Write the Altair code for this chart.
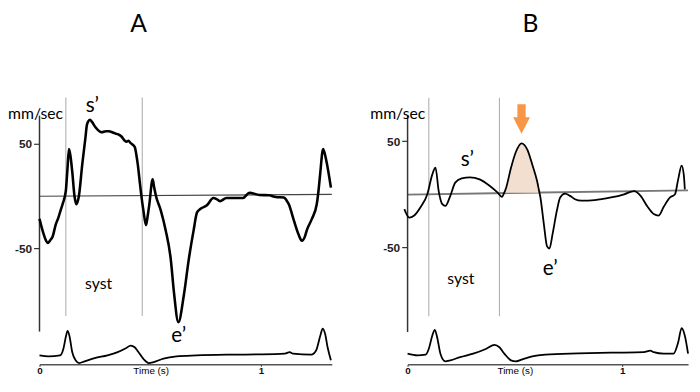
import altair as alt
import pandas as pd

# ---------------- data ----------------
# Panel A: tissue Doppler velocity (mm/sec) vs time (s)
a_time = [0.0, 0.015, 0.03, 0.037, 0.05, 0.059, 0.074, 0.085, 0.095, 0.104, 0.119, 0.126, 0.133, 0.14,
          0.148, 0.158, 0.166, 0.174, 0.178, 0.193, 0.207, 0.214, 0.219, 0.228, 0.237, 0.252, 0.27, 0.281,
          0.3, 0.311, 0.341, 0.356, 0.37, 0.385, 0.393, 0.402, 0.41, 0.43, 0.437, 0.444, 0.452, 0.459, 0.47,
          0.481, 0.488, 0.496, 0.511, 0.518, 0.526, 0.548, 0.57, 0.593, 0.607, 0.627, 0.652, 0.674, 0.696,
          0.711, 0.726, 0.756, 0.785, 0.8, 0.815, 0.844, 0.889, 0.919, 0.948, 0.993, 1.037, 1.067, 1.104,
          1.115, 1.126, 1.148, 1.17, 1.185, 1.2, 1.207, 1.23, 1.252, 1.26, 1.267, 1.281, 1.296, 1.316]
a_vel = [-22, -34, -43, -45, -42, -39, -27, -21, -14, -8, 5, 25, 45, 38, 23, 0, -8, -4, 0, 30, 55, 68, 71,
         73, 71, 66, 62, 61, 62, 62, 60, 59, 57, 53, 52, 53, 51, 47, 40, 30, 15, 2, -15, -28, -20, -8, 16, 8,
         0, -14, -33, -61, -92, -121, -95, -61, -33, -16, -12.5, -9, -2, -3, -5, -2, -2, -2, 3, 1, 0.6, -1,
         -1.5, -4, -8, -23, -37, -43, -38, -33, -22, -8, 5, 20, 45, 33, 8]
a_ecg_time = [0, 0.041, 0.093, 0.108, 0.120, 0.127, 0.135, 0.148, 0.163, 0.179, 0.204, 0.249, 0.307, 0.353,
              0.390, 0.412, 0.430, 0.449, 0.471, 0.493, 0.516, 0.56, 0.619, 0.708, 0.856, 1.004, 1.108, 1.13,
              1.145, 1.227, 1.249, 1.268, 1.279, 1.290, 1.301, 1.316]
a_ecg = [0, -0.04, 0, 0.27, 0.8, 1.0, 0.8, 0.13, -0.2, -0.31, -0.24, -0.11, 0, 0.13, 0.29, 0.4, 0.33, 0.11,
         -0.16, -0.31, -0.27, -0.13, -0.04, 0, 0.03, 0.04, 0.07, 0.13, 0.07, 0.03, 0.2, 0.8, 1.09, 0.87, 0.33, -0.2]
a_syst = [0.119, 0.464]

# Panel B
b_time = [-0.015, 0.008, 0.031, 0.061, 0.092, 0.115, 0.13, 0.145, 0.161, 0.176, 0.199, 0.222, 0.252, 0.291,
          0.336, 0.382, 0.42, 0.44, 0.447, 0.459, 0.482, 0.505, 0.531, 0.558, 0.581, 0.604, 0.612, 0.619, 0.635,
          0.65, 0.661, 0.676, 0.696, 0.711, 0.734, 0.757, 0.78, 0.81, 0.872, 0.948, 1.009, 1.055, 1.086, 1.116,
          1.147, 1.17, 1.193, 1.223, 1.246, 1.261, 1.277, 1.287, 1.292]
b_vel = [-14, -22, -20, -12, 0, 18.5, 25, 3, -9, -11, -1.5, 11, 15, 16, 14, 8, 1.5, -2.5, 0, 6, 25, 40, 48,
         42, 28, 12, 4, -3, -28, -49, -51, -37, -15, -3, 0.6, -1.5, -4.6, -6, -5.5, -3, 0, 3, -1.5, -11, -18.5,
         -20, -12, -3, 0, 14, 27, 18.5, 4.6]
b_ecg_time = [0, 0.046, 0.084, 0.099, 0.115, 0.127, 0.138, 0.153, 0.176, 0.199, 0.245, 0.306, 0.367, 0.405,
              0.428, 0.451, 0.482, 0.505, 0.535, 0.581, 0.642, 0.795, 0.948, 1.101, 1.131, 1.147, 1.193, 1.239,
              1.261, 1.277, 1.292, 1.307]
b_ecg = [0.03, -0.04, -0.01, 0.23, 0.76, 1.0, 0.69, 0.03, -0.28, -0.24, -0.11, 0.03, 0.23, 0.39, 0.29, 0.03,
         -0.24, -0.28, -0.2, -0.08, -0.01, 0.04, 0.07, 0.09, 0.15, 0.09, 0.03, 0.03, 0.49, 1.07, 0.76, 0.03]
b_syst = [0.099, 0.428]
b_shade = [0.447, 0.612]   # shaded early-diastolic positive wave

y_ticks = [50, -50]
x_ticks = [0, 1]

H = 358
FT = "Lato"
FA = "Liberation Sans"


def panel(t_max, width, v_dom, e_dom, tt, vv, et, ev, syst, syst_v, axis_v, base_v, base_style,
          labels, trace_w, time_title_x, shade=None, arrow=None):
    xs = alt.Scale(domain=[0, t_max], nice=False, zero=False)
    vs = alt.Scale(domain=v_dom, nice=False, zero=False)
    es = alt.Scale(domain=e_dom, nice=False, zero=False)
    xaxis = alt.Axis(values=x_ticks, format="d", title="Time (s)", titleX=time_title_x, titleY=1,
                     titleAlign="center", titleBaseline="top", titleFont=FA, titleFontSize=10,
                     titleFontWeight="normal", titleColor="#000", labelFont=FA, labelFontSize=10,
                     labelFontWeight="bold", labelColor="#111", labelPadding=-1, tickSize=2,
                     tickColor="#444", tickWidth=1.2, domainColor="#555", domainWidth=1.5, grid=False,
                     labelFlush=False)
    yaxis = alt.Axis(values=y_ticks, title=None, domain=False, tickSize=6, tickColor="#333", tickWidth=1.2,
                     labelFont=FA, labelFontSize=12, labelFontWeight="bold", labelColor="#222",
                     labelPadding=2, grid=False, labelExpr="'' + datum.value")

    def X(f):
        return alt.X(f, type="quantitative", scale=xs, axis=xaxis)

    def Y(f, axis=None):
        return alt.Y(f, type="quantitative", scale=vs, axis=axis)

    layers = []
    sd = pd.DataFrame({"t": syst, "v1": [syst_v[0]] * len(syst), "v2": [syst_v[1]] * len(syst)})
    layers.append(alt.Chart(sd).mark_rule(color="#a8a8a8", strokeWidth=1).encode(
        x=X("t"), y=Y("v1"), y2=alt.Y2("v2")))
    bd = pd.DataFrame({"t1": [0], "t2": [t_max], "v1": [base_v[0]], "v2": [base_v[1]]})
    layers.append(alt.Chart(bd).mark_rule(color=base_style[0], strokeWidth=base_style[1]).encode(
        x=X("t1"), x2=alt.X2("t2"), y=Y("v1"), y2=alt.Y2("v2")))
    ad = pd.DataFrame({"t": [0], "v1": [axis_v[0]], "v2": [axis_v[1]]})
    layers.append(alt.Chart(ad).mark_rule(color="#333", strokeWidth=1.5).encode(
        x=X("t"), y=Y("v1", axis=yaxis), y2=alt.Y2("v2")))
    td = pd.DataFrame({"t": tt, "v": vv})
    if shade is not None:
        sh = td[(td.t >= shade[0]) & (td.t <= shade[1])]
        layers.append(alt.Chart(sh).mark_area(color="#f2dfcf", opacity=1, interpolate="monotone").encode(
            x=X("t"), y=Y("v"), y2=alt.datum(1.5)))
    layers.append(alt.Chart(td).mark_line(color="black", strokeWidth=trace_w, interpolate="monotone").encode(
        x=X("t"), y=Y("v")))
    ed = pd.DataFrame({"t": et, "e": ev})
    layers.append(alt.Chart(ed).mark_line(color="black", strokeWidth=1.8, interpolate="monotone").encode(
        x=X("t"), y=alt.Y("e", type="quantitative", scale=es, axis=None)))
    # panel letter
    ttl = pd.DataFrame([labels["title"]], columns=["t", "v", "s"])
    layers.append(alt.Chart(ttl).mark_text(align="center", baseline="alphabetic", font=FT, fontSize=25,
                                           color="black").encode(x=X("t"), y=Y("v"), text="s:N"))
    # annotations
    mm = pd.DataFrame([labels["mm"]], columns=["t", "v", "s"])
    layers.append(alt.Chart(mm).mark_text(align="left", baseline="alphabetic", font=FT, fontSize=16,
                                          color="black").encode(x=X("t"), y=Y("v"), text="s:N"))
    big = pd.DataFrame(labels["big"], columns=["t", "v", "s"])
    layers.append(alt.Chart(big).mark_text(align="center", baseline="alphabetic", font=FT, fontSize=21,
                                           color="black").encode(x=X("t"), y=Y("v"), text="s:N"))
    sy = pd.DataFrame([labels["syst"]], columns=["t", "v", "s"])
    layers.append(alt.Chart(sy).mark_text(align="center", baseline="alphabetic", font=FT, fontSize=16,
                                          color="black").encode(x=X("t"), y=Y("v"), text="s:N"))
    if arrow is not None:
        ar = pd.DataFrame({"t": [arrow[0]], "v": [arrow[1]]})
        path = "M-0.28,-1 L0.28,-1 L0.28,-0.11 L0.57,-0.11 L0,1 L-0.57,-0.11 L-0.28,-0.11 Z"
        layers.append(alt.Chart(ar).mark_point(shape=path, size=900, filled=True, color="#F79646",
                                               opacity=1, strokeWidth=0).encode(x=X("t"), y=Y("v")))
    return alt.layer(*layers).resolve_scale(y="independent").properties(width=width, height=H)


pA = panel(1.32, 297, [-161.3, 176.4], [-0.36, 13.96], a_time, a_vel, a_ecg_time, a_ecg,
           a_syst, [94.3, -115], [77, -130], [-0.3, 1.6], ["#444", 1.2],
           {"title": [0.448, 157.5, "A"],
            "mm": [-0.142, 73.9, "mm/sec"],
            "big": [[0.239, 80.2, "s\u2019"], [0.629, -139.6, "e\u2019"]],
            "syst": [0.267, -89.6, "syst"]},
           2.6, 113)
pB = panel(1.307, 285, [-159.9, 171.6], [-0.4, 13.92], b_time, b_vel, b_ecg_time, b_ecg,
           b_syst, [90.7, -114.8], [74, -129.6], [-0.3, 3.7], ["#777", 2],
           {"title": [0.572, 153.1, "B"],
            "mm": [-0.174, 70.9, "mm/sec"],
            "big": [[0.278, 26.8, "s\u2019"], [0.665, -75.7, "e\u2019"]],
            "syst": [0.248, -84.5, "syst"]},
           1.8, 109, shade=b_shade, arrow=[0.531, 70.9])

chart = alt.hconcat(pA, pB, spacing=34).properties(padding=0).configure_view(stroke=None)
chart.save("out.html", embed_options={"renderer": "svg", "actions": False})
